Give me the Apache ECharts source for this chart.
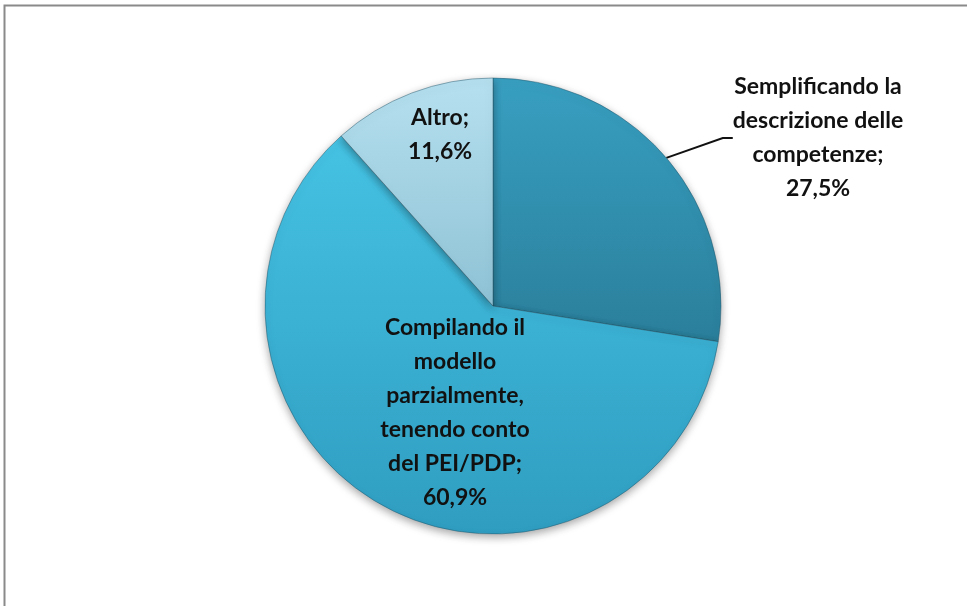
<!DOCTYPE html>
<html>
<head>
    <meta charset="utf-8">
    <title>Pie</title>
    <script src="https://cdn.jsdelivr.net/npm/echarts@6/dist/echarts.min.js"></script>
    <style>
        html, body { margin: 0; padding: 0; background: #fff; }
        #chart { width: 967px; height: 606px; }
    </style>
</head>
<body>
<div id="chart"></div>
<script>
    // dati
    var categorie = [
        'Semplificando la\ndescrizione delle\ncompetenze',
        'Compilando il\nmodello\nparzialmente,\ntenendo conto\ndel PEI/PDP',
        'Altro'
    ];
    var valori = [27.5, 60.9, 11.6];
    var coloriAlto = ['#389fc1', '#45c2e3', '#b6e0ef'];
    var coloriBasso = ['#2a7f9b', '#2f9dc0', '#8ec2d5'];
    // posizione dei testi (centro) per ogni fetta
    var posEtichette = [[818, 138], [455, 413], [440, 135]];

    var chart = echarts.init(document.getElementById('chart'));

    var dati = valori.map(function (v, i) {
        return {
            name: categorie[i],
            value: v,
            itemStyle: {
                color: new echarts.graphic.LinearGradient(0, 0, 0, 1, [
                    {offset: 0, color: coloriAlto[i]},
                    {offset: 1, color: coloriBasso[i]}
                ])
            },
            labelLine: {show: i === 0}
        };
    });

    var option = {
        backgroundColor: '#fff',
        animation: false,
        graphic: [{
            type: 'rect',
            shape: {x: 4.5, y: 5.5, width: 1200, height: 800},
            style: {fill: 'none', stroke: '#8a8a8a', lineWidth: 2}
        }],
        series: [{
            type: 'pie',
            center: [493, 306],
            radius: 228,
            startAngle: 90,
            clockwise: true,
            data: dati,
            itemStyle: {
                borderColor: 'rgba(30,80,100,0.45)',
                borderWidth: 1,
                shadowBlur: 8,
                shadowOffsetY: 3,
                shadowColor: 'rgba(0,0,0,0.35)'
            },
            label: {
                show: true,
                position: 'outside',
                formatter: function (p) {
                    return p.name + ';\n' + p.value.toFixed(1).replace('.', ',') + '%';
                },
                fontFamily: 'Lato',
                fontWeight: 'bold',
                fontSize: 23,
                lineHeight: 34,
                color: '#111',
                align: 'center'
            },
            labelLine: {
                show: true,
                length: 50,
                length2: 10,
                lineStyle: {color: '#111', width: 2}
            },
            labelLayout: function (p) {
                var pos = posEtichette[p.dataIndex];
                return {x: pos[0], y: pos[1], align: 'center', verticalAlign: 'middle'};
            }
        }]
    };

    chart.setOption(option);
</script>
</body>
</html>
